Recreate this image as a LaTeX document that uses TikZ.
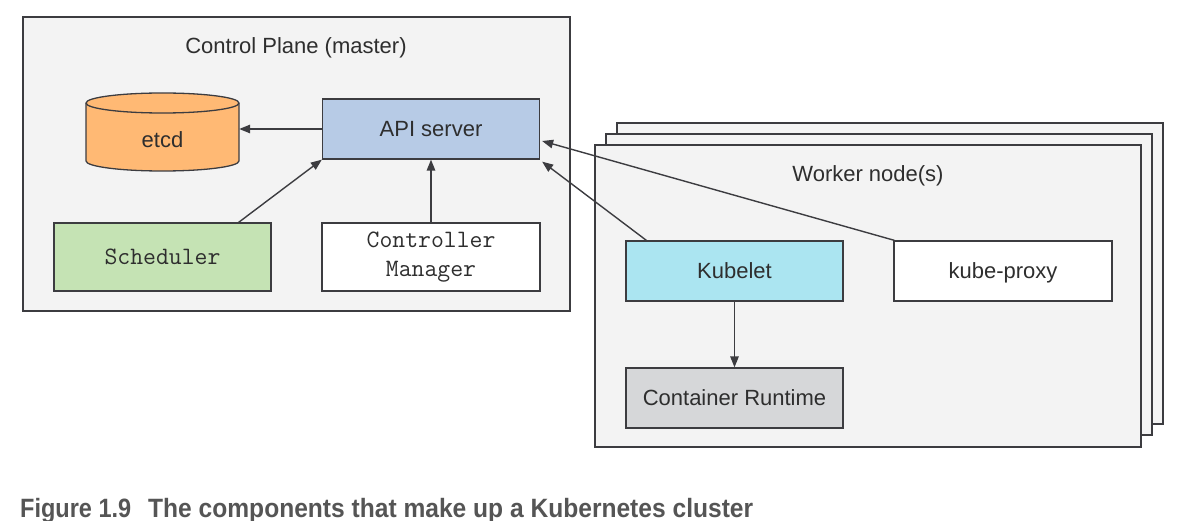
\documentclass[tikz,border=0pt]{standalone}
\usepackage{fontspec}
\setmainfont{Liberation Sans}
\usetikzlibrary{arrows.meta,calc}
\definecolor{edge}{HTML}{3C3C40}
\definecolor{panel}{HTML}{F3F3F3}
\definecolor{etcdc}{HTML}{FFB974}
\definecolor{apic}{HTML}{B7CBE6}
\definecolor{schedc}{HTML}{C5E3B4}
\definecolor{kubeletc}{HTML}{ABE5F1}
\definecolor{crc}{HTML}{D6D7D9}
\definecolor{txt}{HTML}{2E2E2E}
\definecolor{capc}{HTML}{555555}
\tikzset{
  framed/.style={draw=edge, line width=1.3pt, inner sep=0pt, text=txt},
  box/.style={framed, font=\fontsize{22}{26}\selectfont, text height=15.75pt, text depth=0pt},
  monobox/.style={framed, font=\ttfamily\fontsize{25}{29}\selectfont, align=center},
  panelbox/.style={draw=edge, line width=1.3pt, fill=panel},
  arr/.style={draw=edge, line width=1.4pt, -{Triangle[length=11pt,width=8.5pt]}},
  lbl/.style={text=txt, font=\fontsize{22}{26}\selectfont, inner sep=0pt, text height=15.75pt, text depth=0pt},
  caption/.style={anchor=base west, inner sep=0pt, text=capc, font=\bfseries\fontsize{26.5}{30}\selectfont},
}
\begin{document}
\begin{tikzpicture}[x=1pt,y=-1pt]
\useasboundingbox (0,0) rectangle (1199,521);
% control plane panel
\draw[panelbox] (23,17) rectangle (570,311);
\node[lbl] (cplabel) at (296,46) {Control Plane (master)};
% worker stack
\draw[panelbox] (617,123) rectangle (1163,424);
\draw[panelbox] (606,134) rectangle (1152,435);
\draw[panelbox] (595,145) rectangle (1141,447);
\node[lbl] (wlabel) at (868,174) {Worker node(s)};
% etcd cylinder
\fill[etcdc] (86,103) -- (86,161) arc[start angle=180,end angle=360,x radius=76.5pt,y radius=10pt]
  -- (239,103) arc[start angle=0,end angle=180,x radius=76.5pt,y radius=10pt] -- cycle;
\draw[edge, line width=1.3pt] (86,103) -- (86,161) arc[start angle=180,end angle=360,x radius=76.5pt,y radius=10pt]
  -- (239,103) arc[start angle=0,end angle=180,x radius=76.5pt,y radius=10pt];
\draw[edge, line width=1.3pt] (86,103) arc[start angle=180,end angle=360,x radius=76.5pt,y radius=10pt];
\node[lbl, minimum width=153pt] (etcd) at (162.5,140) {etcd};
% control plane components
\node[box, fill=apic, minimum width=217pt, minimum height=60pt] (api) at (431,129) {API server};
\node[monobox, fill=schedc, minimum width=217pt, minimum height=68pt] (sched) at (162.5,257) {Scheduler};
\node[monobox, fill=white, minimum width=218pt, minimum height=68pt] (ctrl) at (431,257) {Controller\\Manager};
% worker components
\node[box, fill=kubeletc, minimum width=217pt, minimum height=60pt] (kubelet) at (734.5,271) {Kubelet};
\node[box, fill=white, minimum width=218pt, minimum height=60pt] (proxy) at (1003,271) {kube-proxy};
\node[box, fill=crc, minimum width=217pt, minimum height=60pt] (cr) at (734.5,398) {Container Runtime};
% connectors
\draw[arr] (api.west) -- (api.west -| etcd.east);
\draw[arr] ([xshift=-33pt]sched.north east) -- (api.south west);
\draw[arr] (ctrl.north) -- (api.south);
\draw[arr] ([xshift=21pt]kubelet.north west) -- ([shift={(2pt,-2pt)}]api.south east);
\draw[arr] ([xshift=1pt]proxy.north west) -- ([shift={(2pt,-12pt)}]api.east);
\draw[arr] (kubelet.south) -- (cr.north);
% caption
\node[caption] (figno) at (20,517) {\resizebox{111pt}{\height}{Figure 1.9}};
\node[caption] (figtext) at (148,517) {\resizebox{605pt}{\height}{The components that make up a Kubernetes cluster}};
\end{tikzpicture}
\end{document}
